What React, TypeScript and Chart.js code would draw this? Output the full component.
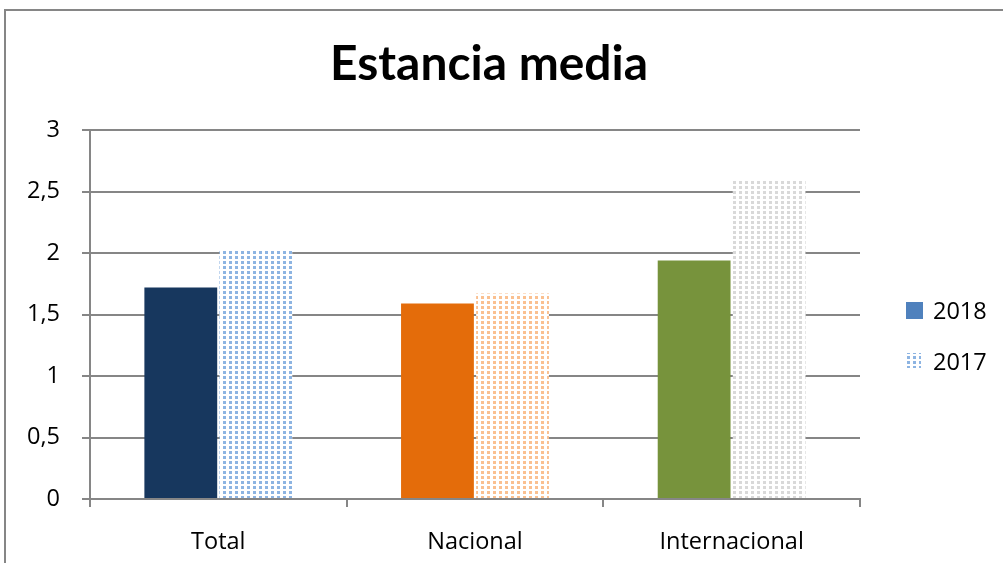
import React, { useEffect, useRef } from "react";
import { Chart, registerables } from "chart.js";

Chart.register(...registerables);

const titleText = "Estancia media";
const categories = ["Total", "Nacional", "Internacional"];
const seriesNames = ["2018", "2017"];
const series2018 = [1.72, 1.59, 1.94];
const series2017 = [2.03, 1.67, 2.6];
const yTickLabels = ["0", "0,5", "1", "1,5", "2", "2,5", "3"];
const colors2018 = ["#17375E", "#E46C0A", "#77933C"];
const dotColors2017 = ["#8DB4E2", "#FAC090", "#D9D9D9"];
const legendColor2018 = "#4F81BD";

const GRID = "#868686";
const TITLE_FONT = "Lato";
const FONT = "'Open Sans'";
const FSIZE = 23.5;

function makeDots(color: string): CanvasPattern | string {
  const c = document.createElement("canvas");
  c.width = 6;
  c.height = 5;
  const g = c.getContext("2d");
  if (!g) return color;
  g.fillStyle = "#ffffff";
  g.fillRect(0, 0, 6, 5);
  g.fillStyle = color;
  g.fillRect(1, 1, 3, 3);
  const p = g.createPattern(c, "repeat");
  return p || color;
}

export default function App() {
  const ref = useRef<HTMLCanvasElement | null>(null);

  useEffect(() => {
    document.body.style.margin = "0";
    const canvas = ref.current;
    if (!canvas) return;
    const patterns = dotColors2017.map(makeDots);

    const deco = {
      id: "deco",
      beforeDraw(chart: any) {
        const ctx = chart.ctx;
        ctx.save();
        ctx.fillStyle = "#ffffff";
        ctx.fillRect(0, 0, chart.width, chart.height);
        ctx.restore();
      },
      afterDraw(chart: any) {
        const ctx = chart.ctx;
        ctx.save();
        ctx.strokeStyle = GRID;
        ctx.lineWidth = 2;
        ctx.beginPath();
        ctx.moveTo(5, chart.height + 5);
        ctx.lineTo(5, 10);
        ctx.lineTo(chart.width + 5, 10);
        ctx.stroke();
        ctx.fillStyle = "#000000";
        ctx.font = `bold 47px ${TITLE_FONT}`;
        ctx.textAlign = "left";
        ctx.textBaseline = "alphabetic";
        const w = ctx.measureText(titleText).width;
        const target = 318;
        const sx = target / w;
        ctx.translate(489 - target / 2, 80);
        ctx.scale(sx, 1);
        ctx.fillText(titleText, 0, 0);
        ctx.restore();

        ctx.save();
        ctx.font = `${FSIZE}px ${FONT}`;
        ctx.textBaseline = "middle";
        ctx.fillStyle = legendColor2018;
        ctx.fillRect(906, 302, 17, 17);
        ctx.fillStyle = patterns[0] as any;
        ctx.fillRect(906, 353, 15, 15);
        ctx.fillStyle = "#000000";
        ctx.fillText(seriesNames[0], 933, 312);
        ctx.fillText(seriesNames[1], 933, 363);
        ctx.restore();
      },
    };

    const chart = new Chart(canvas, {
      type: "bar",
      data: {
        labels: categories,
        datasets: [
          {
            label: seriesNames[0],
            data: series2018,
            backgroundColor: colors2018,
            borderWidth: 0,
          },
          {
            label: seriesNames[1],
            data: series2017,
            backgroundColor: patterns as any,
            borderWidth: 0,
          },
        ],
      },
      options: {
        animation: false,
        responsive: false,
        maintainAspectRatio: false,
        devicePixelRatio: 1,
        layout: { padding: { left: 0, right: 143, top: 130, bottom: 0 } },
        datasets: {
          bar: { categoryPercentage: 0.585, barPercentage: 0.97 },
        },
        plugins: {
          legend: { display: false },
          title: { display: false },
          tooltip: { enabled: false },
        },
        scales: {
          x: {
            offset: true,
            grid: {
              display: true,
              drawOnChartArea: false,
              drawTicks: true,
              tickLength: 8,
              color: GRID,
              lineWidth: 2,
              offset: true,
            },
            border: { display: true, color: GRID, width: 2 },
            ticks: {
              color: "#000000",
              font: { family: FONT, size: FSIZE, lineHeight: 1.2 },
              padding: 21,
              maxRotation: 0,
            },
            afterFit(scale: any) {
              scale.height = 64;
            },
          },
          y: {
            min: 0,
            max: 3,
            grid: {
              color: GRID,
              lineWidth: 2,
              tickLength: 8,
            },
            border: { display: true, color: GRID, width: 2 },
            ticks: {
              stepSize: 0.5,
              color: "#000000",
              font: { family: FONT, size: FSIZE },
              padding: 22,
              callback: (_v: any, i: number) => yTickLabels[i],
            },
            afterFit(scale: any) {
              scale.width = 90;
            },
          },
        },
      },
      plugins: [deco],
    });

    return () => chart.destroy();
  }, []);

  return (
    <canvas
      ref={ref}
      width={1003}
      height={563}
      style={{ display: "block", width: "1003px", height: "563px" }}
    />
  );
}
